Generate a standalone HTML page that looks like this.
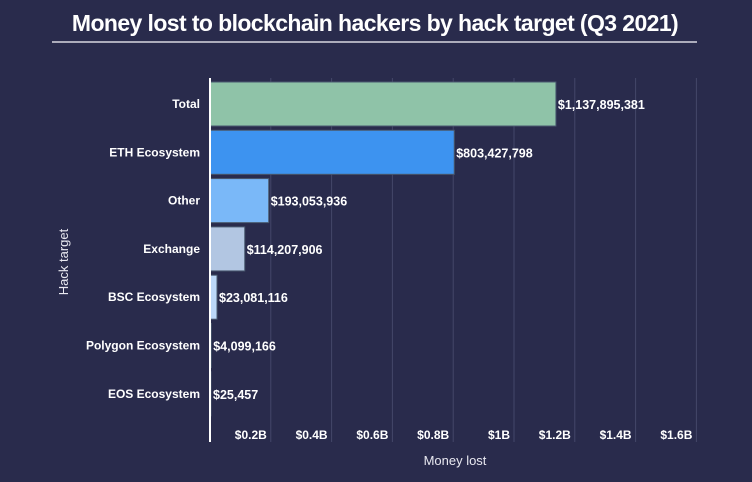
<!DOCTYPE html>
<html><head><meta charset="utf-8"><style>
body{margin:0;width:752px;height:482px;background:#292b4c;overflow:hidden;font-family:"Liberation Sans",sans-serif}
</style></head><body>
<svg width="752" height="482" style="position:absolute;left:0;top:0">
<text x="375" y="31" text-anchor="middle" fill="#fff" font-size="23" font-weight="bold" style="letter-spacing:-0.6px">Money lost to blockchain hackers by hack target (Q3 2021)</text>
<line x1="52" y1="42" x2="697" y2="42" stroke="#d8d8e0" stroke-width="1.5"/>
<g id="grid"></g><g id="bars"></g>
<line x1="210" y1="78" x2="210" y2="442" stroke="#fff" stroke-width="2"/>
<text x="455" y="465" text-anchor="middle" fill="#e8e8f0" font-size="13">Money lost</text>
<text transform="translate(68,262) rotate(-90)" text-anchor="middle" fill="#e8e8f0" font-size="13">Hack target</text>
</svg>
<script>
const categories=["Total","ETH Ecosystem","Other","Exchange","BSC Ecosystem","Polygon Ecosystem","EOS Ecosystem"];
const values=[1137895381,803427798,193053936,114207906,23081116,4099166,25457];
const labels=["$1,137,895,381","$803,427,798","$193,053,936","$114,207,906","$23,081,116","$4,099,166","$25,457"];
const colors=["#8fc3a8","#3d93f0","#7ab8f8","#b2c6e2","#bcd8f8","#d0e2f8","#d0e2f8"];
const tickValues=[2e8,4e8,6e8,8e8,1e9,1.2e9,1.4e9,1.6e9];
const tickLabels=["$0.2B","$0.4B","$0.6B","$0.8B","$1B","$1.2B","$1.4B","$1.6B"];
const NS="http://www.w3.org/2000/svg";
const x=v=>210+v*0.304e-6;
const yc=i=>104+i*48.3;
function mk(t,a,p){const e=document.createElementNS(NS,t);for(const k in a)e.setAttribute(k,a[k]);p.appendChild(e);return e;}
const g=document.getElementById('grid'),b=document.getElementById('bars');
tickValues.forEach((v,i)=>{
 const l=mk('line',{x1:x(v),x2:x(v),y1:78,y2:442,stroke:'#44476a','stroke-width':1},g);
 
 
 const t=mk('text',{x:x(v)-4,y:439,'text-anchor':'end',fill:'#fff','font-size':12,'font-weight':'bold'},g);
 t.textContent=tickLabels[i];
 
 
});
categories.forEach((c,i)=>{
 const w=Math.max(x(values[i])-210,1);
 const r=mk('rect',{x:210,y:yc(i)-22,width:w,height:44,fill:colors[i],stroke:'#4a5a70','stroke-width':1},b);
 
 
 const t=mk('text',{x:200,y:yc(i)+4,'text-anchor':'end',fill:'#fff','font-size':12,'font-weight':'bold'},b);
 t.textContent=c;
 
 
 const v=mk('text',{x:210+w+2,y:yc(i)+5,fill:'#fff','font-size':12.5,'font-weight':'bold'},b);
 v.textContent=labels[i];
 
 
});
</script>
</body></html>
